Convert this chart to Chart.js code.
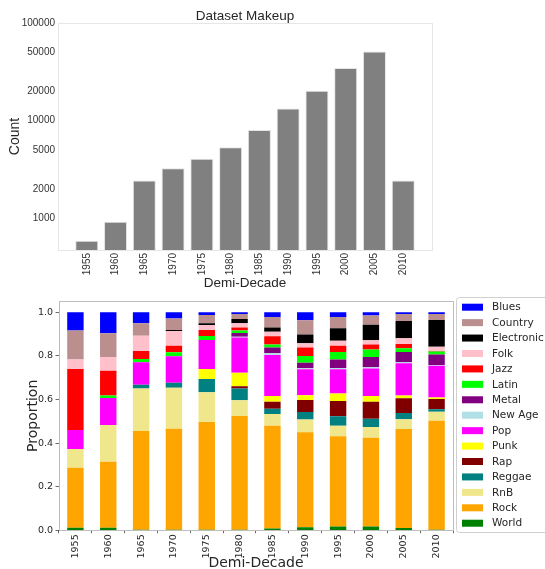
<!DOCTYPE html>
<html>
<head>
<meta charset="utf-8">
<title>Dataset Makeup</title>
<script src="https://cdn.jsdelivr.net/npm/chart.js@4.4.0/dist/chart.umd.min.js"></script>
<style>
  html, body { margin: 0; padding: 0; background: #ffffff; }
  #wrap { position: relative; width: 545px; height: 569px; overflow: hidden; }
  canvas { position: absolute; left: 0; }
  #countChart { top: 0; }
  #genreChart { top: 290px; }
</style>
</head>
<body>
<div id="wrap">
  <canvas id="countChart" width="545" height="290"></canvas>
  <canvas id="genreChart" width="545" height="279"></canvas>
</div>
<script>
// ---- data ----
const demiDecades = ['1955', '1960', '1965', '1970', '1975', '1980', '1985', '1990', '1995', '2000', '2005', '2010'];

// songs per demi-decade
const songCounts = [590, 920, 2430, 3260, 4080, 5350, 8000, 13300, 20200, 34500, 51200, 2430];
const countTicks = [1000, 2000, 5000, 10000, 20000, 50000, 100000];

// share of each genre per demi-decade
const world      = [0.012, 0.012, 0.003, 0.003, 0.003, 0.003, 0.008, 0.014, 0.017, 0.018, 0.011, 0.003];
const rock       = [0.275, 0.303, 0.453, 0.463, 0.494, 0.521, 0.472, 0.436, 0.414, 0.406, 0.454, 0.500];
const rnb        = [0.086, 0.168, 0.195, 0.188, 0.136, 0.072, 0.054, 0.058, 0.049, 0.050, 0.044, 0.041];
const reggae     = [0.000, 0.000, 0.017, 0.023, 0.061, 0.055, 0.024, 0.035, 0.043, 0.038, 0.029, 0.011];
const rap        = [0.000, 0.000, 0.000, 0.000, 0.000, 0.010, 0.032, 0.055, 0.070, 0.078, 0.068, 0.047];
const punk       = [0.000, 0.000, 0.000, 0.000, 0.046, 0.062, 0.026, 0.021, 0.035, 0.026, 0.012, 0.007];
const pop        = [0.087, 0.124, 0.103, 0.121, 0.133, 0.161, 0.188, 0.120, 0.111, 0.126, 0.148, 0.146];
const newAge     = [0.000, 0.000, 0.000, 0.000, 0.000, 0.004, 0.008, 0.004, 0.006, 0.006, 0.005, 0.003];
const metal      = [0.000, 0.000, 0.000, 0.000, 0.000, 0.017, 0.026, 0.026, 0.038, 0.047, 0.047, 0.048];
const latin      = [0.000, 0.011, 0.015, 0.019, 0.018, 0.012, 0.014, 0.031, 0.035, 0.034, 0.017, 0.014];
const jazz       = [0.280, 0.114, 0.037, 0.030, 0.028, 0.013, 0.038, 0.038, 0.029, 0.023, 0.020, 0.003];
const folk       = [0.043, 0.063, 0.070, 0.067, 0.023, 0.020, 0.021, 0.020, 0.022, 0.020, 0.026, 0.019];
const electronic = [0.000, 0.000, 0.000, 0.005, 0.008, 0.019, 0.019, 0.040, 0.058, 0.071, 0.079, 0.123];
const country    = [0.133, 0.109, 0.057, 0.053, 0.038, 0.023, 0.049, 0.065, 0.052, 0.042, 0.032, 0.027];
const blues      = [0.084, 0.096, 0.050, 0.028, 0.012, 0.008, 0.021, 0.037, 0.021, 0.015, 0.008, 0.008];

const proportionTicks = [0, 0.2, 0.4, 0.6, 0.8, 1.0];

// stacking order, bottom to top
const genreSeries = [
  ['World', world], ['Rock', rock], ['RnB', rnb], ['Reggae', reggae], ['Rap', rap],
  ['Punk', punk], ['Pop', pop], ['New Age', newAge], ['Metal', metal], ['Latin', latin],
  ['Jazz', jazz], ['Folk', folk], ['Electronic', electronic], ['Country', country], ['Blues', blues]
];

// ---- styles ----
const genreColors = {
  'World': '#008000', 'Rock': '#ffa500', 'RnB': '#f0e68c', 'Reggae': '#008080', 'Rap': '#800000',
  'Punk': '#ffff00', 'Pop': '#ff00ff', 'New Age': '#b0e0e6', 'Metal': '#800080', 'Latin': '#00ff00',
  'Jazz': '#ff0000', 'Folk': '#ffc0cb', 'Electronic': '#000000', 'Country': '#bc8f8f', 'Blues': '#0000ff'
};
const SANS = '"Liberation Sans", Arial, sans-serif';
const DEJAVU = '"DejaVu Sans", sans-serif';

// outline around the plotting area
const framePlugin = {
  id: 'frame',
  afterDatasetsDraw(chart, args, opts) {
    const { left, top, right, bottom } = chart.chartArea;
    const ctx = chart.ctx;
    ctx.save();
    ctx.strokeStyle = opts.color;
    ctx.lineWidth = opts.width;
    ctx.strokeRect(Math.round(left) + 0.5, Math.round(top) + 0.5,
                   Math.round(right - left), Math.round(bottom - top));
    ctx.restore();
  }
};

// boxed legend to the right of the stacked bars, top entry = top of stack
const sideLegend = {
  id: 'sideLegend',
  afterDraw(chart, args, o) {
    const ctx = chart.ctx;
    const items = chart.data.datasets.slice().reverse();
    ctx.save();
    ctx.strokeStyle = o.borderColor;
    ctx.lineWidth = 1;
    ctx.beginPath();
    ctx.roundRect(o.boxX + 0.5, o.boxY + 0.5, o.boxW, o.boxH, 3);
    ctx.stroke();
    ctx.font = o.font;
    ctx.textBaseline = 'middle';
    ctx.textAlign = 'left';
    items.forEach((ds, i) => {
      const y = o.firstRow + o.rowStep * i;
      ctx.fillStyle = ds.backgroundColor;
      ctx.fillRect(o.swatchX, y - o.swatchH / 2, o.swatchW, o.swatchH);
      ctx.fillStyle = o.textColor;
      ctx.fillText(ds.label, o.textX, y + 0.5);
    });
    ctx.restore();
  }
};

// ---- chart 1: counts on a log axis ----
const paddedLabels = [''].concat(demiDecades, ['']);
const paddedCounts = [null].concat(songCounts, [null]);

new Chart(document.getElementById('countChart'), {
  type: 'bar',
  data: {
    labels: paddedLabels,
    datasets: [{
      data: paddedCounts,
      backgroundColor: '#808080',
      borderColor: '#e4e4e4',
      borderWidth: 1,
      categoryPercentage: 0.8,
      barPercentage: 1.0
    }]
  },
  plugins: [framePlugin],
  options: {
    responsive: false,
    animation: false,
    devicePixelRatio: 1,
    layout: { padding: { left: 0, right: 113, top: 0, bottom: 0 } },
    plugins: {
      legend: { display: false },
      tooltip: { enabled: false },
      title: {
        display: true,
        text: 'Dataset Makeup',
        fullSize: false,
        color: '#262626',
        font: { family: SANS, size: 13.5, weight: 'normal', lineHeight: 0.8 },
        padding: { top: 10.6, bottom: 1.6 }
      },
      frame: { color: '#e6e6e6', width: 1 }
    },
    scales: {
      x: {
        type: 'category',
        offset: false,
        grid: { display: false, drawTicks: false },
        border: { display: false },
        ticks: {
          autoSkip: false, minRotation: 90, maxRotation: 90,
          padding: 3, color: '#333333',
          font: { family: SANS, size: 10 }
        },
        title: {
          display: true, text: 'Demi-Decade', color: '#262626',
          font: { family: SANS, size: 13.5, lineHeight: 0.8 },
          padding: { top: 0, bottom: 1.5 }
        },
        afterFit(scale) { scale.height = 40; }
      },
      y: {
        type: 'logarithmic',
        min: 473,
        max: 100000,
        grid: { display: false, drawTicks: false },
        border: { display: false },
        afterBuildTicks(scale) { scale.ticks = countTicks.map(v => ({ value: v })); },
        ticks: {
          padding: 3, color: '#333333',
          font: { family: SANS, size: 10 },
          callback: (v) => String(v)
        },
        title: {
          display: true, text: 'Count', color: '#262626',
          font: { family: SANS, size: 14, lineHeight: 1 },
          padding: { top: 8, bottom: 0 }
        },
        afterFit(scale) { scale.width = 58; }
      }
    }
  }
});

// ---- chart 2: genre proportions, stacked ----
new Chart(document.getElementById('genreChart'), {
  type: 'bar',
  data: {
    labels: demiDecades,
    datasets: genreSeries.map(([name, values]) => ({
      label: name,
      data: values,
      backgroundColor: genreColors[name],
      borderWidth: 0,
      categoryPercentage: 1.0,
      barPercentage: 0.5
    }))
  },
  plugins: [framePlugin, sideLegend],
  options: {
    responsive: false,
    animation: false,
    devicePixelRatio: 1,
    layout: { padding: { left: 0, right: 92, top: 11.4, bottom: 0 } },
    plugins: {
      legend: { display: false },
      tooltip: { enabled: false },
      frame: { color: '#bdbdbd', width: 1 },
      sideLegend: {
        boxX: 456, boxY: 7, boxW: 100, boxH: 235,
        borderColor: '#d0d0d0',
        firstRow: 17.2, rowStep: 15.43,
        swatchX: 462, swatchW: 21, swatchH: 7,
        textX: 492, textColor: '#262626',
        font: '10.5px ' + DEJAVU
      }
    },
    scales: {
      x: {
        type: 'category',
        stacked: true,
        offset: true,
        grid: { display: true, drawOnChartArea: false, drawTicks: true, tickLength: 3, color: '#444444', lineWidth: 0.8 },
        border: { display: false },
        ticks: {
          autoSkip: false, minRotation: 90, maxRotation: 90,
          padding: 1, color: '#262626',
          font: { family: DEJAVU, size: 9.5 }
        },
        title: {
          display: true, text: 'Demi-Decade', color: '#262626',
          font: { family: DEJAVU, size: 14, lineHeight: 0.8 },
          padding: { top: 0, bottom: 0 }
        },
        afterFit(scale) { scale.height = 38.7; }
      },
      y: {
        stacked: true,
        min: 0,
        max: 1.05,
        grid: { display: true, drawOnChartArea: false, drawTicks: true, tickLength: 3.5, color: '#444444', lineWidth: 0.8 },
        border: { display: false },
        afterBuildTicks(scale) { scale.ticks = proportionTicks.map(v => ({ value: v })); },
        ticks: {
          padding: 2.5, color: '#262626',
          font: { family: DEJAVU, size: 9.5 },
          callback: (v) => Number(v).toFixed(1)
        },
        title: {
          display: true, text: 'Proportion', color: '#262626',
          font: { family: DEJAVU, size: 14, lineHeight: 1 },
          padding: { top: 26.5, bottom: 0 }
        },
        afterFit(scale) { scale.width = 59; }
      }
    }
  }
});
</script>
</body>
</html>
